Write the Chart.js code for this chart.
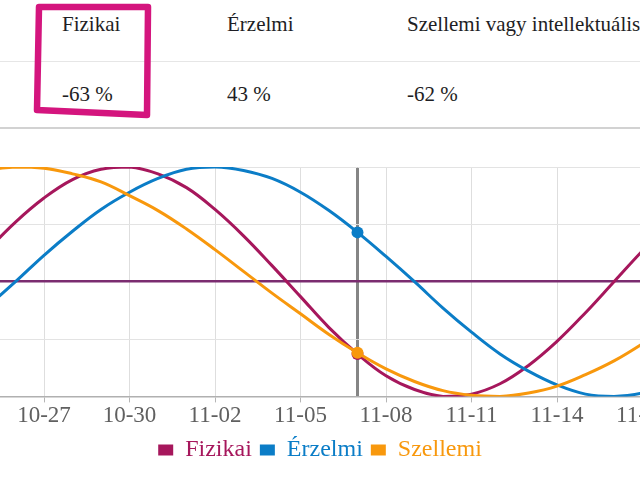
<!DOCTYPE html>
<html lang="hu">
<head>
<meta charset="utf-8">
<title>Bioritmus</title>
<script src="https://cdn.jsdelivr.net/npm/chart.js@4.4.1/dist/chart.umd.min.js"></script>
<style>
  html, body { margin: 0; padding: 0; background: #fff; }
  body {
    width: 640px; height: 480px; overflow: hidden; position: relative;
    font-family: "Liberation Serif", "Times New Roman", serif; color: #1e1e24;
  }
  .rule { position: absolute; left: 0; width: 640px; }
  .cell { position: absolute; font-size: 21px; line-height: 21px; white-space: nowrap; }
  #mark { position: absolute; left: 0; top: 0; }
  #chartBox { position: absolute; left: -145px; top: 130px; width: 930px; height: 342px; }
</style>
</head>
<body>
<div class="rule" style="top:61px;height:1px;background:#e6e6e6"></div>
<div class="rule" style="top:127px;height:2px;background:#d2d2d2"></div>
<div id="table"></div>
<svg id="mark" width="640" height="130">
  <polygon points="39,7 148,7 147,115 37,110" fill="none" stroke="#d4157e" stroke-width="6.5" stroke-linejoin="round"/>
</svg>
<div id="chartBox"><canvas id="bioChart"></canvas></div>
<script>
// napok (hh-nn)
const dates = [
  "10-23","10-24","10-25","10-26","10-27","10-28","10-29","10-30","10-31",
  "11-01","11-02","11-03","11-04","11-05","11-06","11-07","11-08","11-09","11-10",
  "11-11","11-12","11-13","11-14","11-15","11-16","11-17","11-18","11-19","11-20",
  "11-21","11-22"
];
const tickDates = ["10-24","10-27","10-30","11-02","11-05","11-08","11-11","11-14","11-17","11-20"];
const today = "11-07";

const seriesNames = ["Fizikai", "Érzelmi", "Szellemi"];
const columnNames = ["Fizikai", "Érzelmi", "Szellemi vagy intellektuális"];
const todayPct = [-63, 43, -62];

// értékek %-ban
const fizikai  = [-27, 0, 27, 52, 73, 89, 98, 100, 94, 82, 63, 40, 14, -13, -40, -63, -82, -94, -100, -98, -89, -73, -52, -27, 0, 27, 52, 73, 89, 98, 100];
const erzelmi  = [-62, -43, -22, 0, 23, 44, 63, 78, 90, 98, 100, 97, 90, 78, 62, 43, 22, 0, -23, -44, -63, -78, -90, -98, -100, -97, -90, -78, -62, -43, -22];
const szellemi = [82, 91, 97, 100, 99, 94, 87, 75, 62, 46, 28, 9, -10, -28, -46, -62, -76, -87, -95, -99, -100, -97, -91, -81, -69, -54, -37, -19, 0, 19, 37];

const colors = ["#a6175c", "#0b7dc7", "#f8980d"];

const $ = (id) => document.getElementById(id);

// fejléc táblázat
const colLeft = [62, 227, 407];
$("table").innerHTML = columnNames.map((n, i) =>
  `<div class="cell" style="left:${colLeft[i]}px;top:14px">${n}</div>` +
  `<div class="cell" style="left:${colLeft[i]}px;top:84px">${todayPct[i]} %</div>`
).join("");

Chart.defaults.font.family = '"Liberation Serif", "Times New Roman", serif';

const isToday = (c) => dates[c.index] === today;
const isTick = (c) => tickDates.includes(dates[c.index]);

const mkSet = (label, data, color, order) => ({
  label, data, order,
  borderColor: color,
  backgroundColor: color,
  borderWidth: 3,
  tension: 0.4,
  fill: false,
  pointRadius: (c) => dates[c.dataIndex] === today ? 6 : 0,
  pointBorderWidth: 0,
  pointBackgroundColor: color
});

new Chart($("bioChart"), {
  type: "line",
  data: {
    labels: dates,
    datasets: [
      mkSet(seriesNames[0], fizikai, colors[0], 3),
      mkSet(seriesNames[1], erzelmi, colors[1], 2),
      mkSet(seriesNames[2], szellemi, colors[2], 1)
    ]
  },
  options: {
    responsive: true,
    maintainAspectRatio: false,
    animation: false,
    events: [],
    layout: { padding: { top: 37, left: 0, right: 0, bottom: 0 } },
    scales: {
      x: {
        ticks: {
          autoSkip: false, maxRotation: 0, minRotation: 0, padding: 0,
          color: "#606060", font: { size: 23 },
          callback: (v, i) => tickDates.includes(dates[i]) ? dates[i] : ""
        },
        grid: {
          color: (c) => isToday(c) ? "#858585" : (isTick(c) ? "#dedede" : "rgba(0,0,0,0)"),
          lineWidth: (c) => isToday(c) ? 3 : 1,
          tickColor: (c) => isTick(c) ? "#b5b5b5" : "rgba(0,0,0,0)",
          tickLength: 6
        },
        border: { color: "#b0b0b0", width: 1.5 }
      },
      y: {
        min: -100, max: 100,
        ticks: { display: false, stepSize: 50 },
        border: { display: false },
        grid: {
          drawTicks: false,
          color: (c) => c.tick.value === 0 ? "#7b2c70" : (c.tick.value === -100 ? "#b0b0b0" : "#e3e3e3"),
          lineWidth: (c) => c.tick.value === 0 ? 2.5 : 1
        },
        afterFit: (s) => { s.width = 75; }
      }
    },
    plugins: {
      tooltip: { enabled: false },
      legend: {
        position: "bottom",
        labels: {
          boxWidth: 15, boxHeight: 11, padding: 8,
          font: { size: 24 },
          generateLabels: (chart) => {
            const items = Chart.defaults.plugins.legend.labels.generateLabels(chart);
            items.sort((a, b) => a.datasetIndex - b.datasetIndex);
            items.forEach(it => { it.fontColor = it.strokeStyle; it.lineWidth = 0; });
            return items;
          }
        }
      }
    }
  }
});
</script>
</body>
</html>
